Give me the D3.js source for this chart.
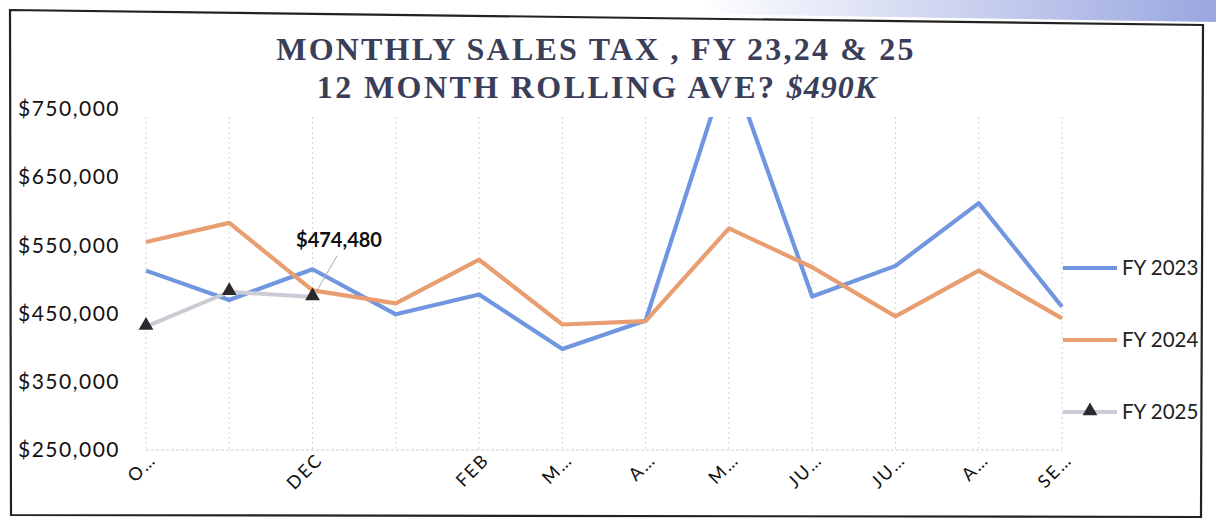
<!DOCTYPE html>
<html>
<head>
<meta charset="utf-8">
<script src="https://cdn.jsdelivr.net/npm/d3@7"></script>
<style>
  body { margin: 0; background: #fff; }
  #chart { width: 1216px; height: 529px; }
</style>
</head>
<body>
<div id="chart"></div>
<script>
// months of the fiscal year (Oct - Sep)
var months = ["OCT", "NOV", "DEC", "JAN", "FEB", "MAR", "APR", "MAY", "JUN", "JUL", "AUG", "SEP"];
// the category labels as Excel truncated them (blank = skipped)
var tickLabels = ["O\u2026", "", "DEC", "", "FEB", "M\u2026", "A\u2026", "M\u2026", "JU\u2026", "JU\u2026", "A\u2026", "SE\u2026"];
var yTicks = [250000, 350000, 450000, 550000, 650000, 750000];

var fy2023 = [513000, 470000, 515000, 449000, 478000, 398000, 440000, 820000, 475000, 520000, 612000, 460000];
var fy2024 = [555000, 583000, 484000, 465000, 529000, 434000, 439000, 575000, 518000, 446000, 513000, 443000];
var fy2025 = [431000, 482000, 474480];

var seriesNames = ["FY 2023", "FY 2024", "FY 2025"];
var seriesColors = ["#7196e0", "#e99e72", "#cbcbd6"];

salesChart = function(_parentElement){
    this.parentElement = _parentElement;
    this.initVis();
}

salesChart.prototype.initVis = function(){
    var vis = this;

    vis.width = 1216;
    vis.height = 529;

    vis.svg = d3.select("#" + vis.parentElement)
        .append("svg")
        .attr("width", vis.width)
        .attr("height", vis.height);

    // scan shadow + page frame
    var grad = vis.svg.append("defs").append("linearGradient")
        .attr("id", "shade").attr("x1", "0").attr("x2", "1");
    grad.append("stop").attr("offset", "0").attr("stop-color", "#ffffff");
    grad.append("stop").attr("offset", "1").attr("stop-color", "#8090d8");
    vis.svg.append("polygon")
        .attr("points", "700,0 1216,0 1216,22 700,14")
        .attr("fill", "url(#shade)")
        .attr("opacity", 0.8);
    vis.svg.append("polygon")
        .attr("points", "10,10 1203,25 1201,517 11,515")
        .attr("fill", "none")
        .attr("stroke", "#222")
        .attr("stroke-width", 2.2);

    vis.x = d3.scalePoint()
        .domain(months)
        .range([146, 1062]);

    vis.y = d3.scaleLinear()
        .domain([250000, 750000])
        .range([450, 109]);

    vis.clip = vis.svg.append("clipPath").attr("id", "plotclip")
        .append("rect")
        .attr("x", 100).attr("y", 117)
        .attr("width", 1000).attr("height", 360);

    // vertical dotted gridlines
    vis.svg.append("g").selectAll("line.grid")
        .data(months)
        .enter().append("line")
        .attr("x1", function(d){ return vis.x(d); })
        .attr("x2", function(d){ return vis.x(d); })
        .attr("y1", 117)
        .attr("y2", vis.y(250000))
        .attr("stroke", "#d4d4d4")
        .attr("stroke-width", 1)
        .attr("stroke-dasharray", "2,3");

    vis.svg.append("line")
        .attr("x1", vis.x("OCT"))
        .attr("x2", vis.x("SEP"))
        .attr("y1", vis.y(250000))
        .attr("y2", vis.y(250000))
        .attr("stroke", "#cfcfcf")
        .attr("stroke-dasharray", "3,2");

    // y axis labels
    vis.yAxis = d3.axisLeft(vis.y)
        .tickValues(yTicks)
        .tickSize(0)
        .tickPadding(0)
        .tickFormat(function(d){ return "$" + d3.format(",")(d); });
    vis.svg.append("g")
        .attr("class", "y-axis")
        .attr("transform", "translate(120,0)")
        .call(vis.yAxis)
        .call(function(g){ g.select(".domain").remove(); })
        .selectAll("text")
        .style("font-family", "Lato, 'Open Sans', sans-serif")
        .style("font-size", "21px")
        .style("letter-spacing", "1.5px")
        .style("fill", "#111");

    // x axis labels, rotated
    vis.xAxis = d3.axisBottom(vis.x)
        .tickSize(0)
        .tickFormat(function(d, i){ return tickLabels[i]; });
    var xg = vis.svg.append("g")
        .attr("class", "x-axis")
        .attr("transform", "translate(0," + 463 + ")")
        .call(vis.xAxis);
    xg.select(".domain").remove();
    xg.selectAll("text")
        .attr("x", 9)
        .attr("y", 0)
        .attr("dy", "0.35em")
        .attr("text-anchor", "end")
        .attr("transform", "rotate(-45)")
        .style("font-family", "Lato, 'Open Sans', sans-serif")
        .style("font-size", "18px")
        .style("letter-spacing", "2px")
        .style("fill", "#111");

    vis.line = d3.line()
        .x(function(d, i){ return vis.x(months[i]); })
        .y(function(d){ return vis.y(d); });

    var plot = vis.svg.append("g").attr("clip-path", "url(#plotclip)");
    [fy2023, fy2024, fy2025].forEach(function(s, k){
        plot.append("path")
            .datum(s)
            .attr("d", vis.line)
            .attr("fill", "none")
            .attr("stroke", seriesColors[k])
            .attr("stroke-width", k == 2 ? 4 : 4.2)
            .attr("stroke-linejoin", "round");
    });

    var tri = d3.symbol().type(d3.symbolTriangle).size(95);
    vis.svg.append("g").selectAll("path.marker")
        .data(fy2025)
        .enter().append("path")
        .attr("d", tri)
        .attr("transform", function(d, i){ return "translate(" + vis.x(months[i]) + "," + (vis.y(d) - 1) + ")"; })
        .attr("fill", "#2a2a2e");

    // data label with leader line
    var last = fy2025.length - 1;
    vis.svg.append("line")
        .attr("x1", 337).attr("y1", 256)
        .attr("x2", vis.x(months[last]) + 3).attr("y2", vis.y(fy2025[last]) - 4)
        .attr("stroke", "#aaa")
        .attr("stroke-width", 1);
    vis.svg.append("text")
        .attr("x", 339)
        .attr("y", 247)
        .attr("text-anchor", "middle")
        .style("font-family", "Lato, 'Open Sans', sans-serif")
        .style("font-weight", "bold")
        .style("font-size", "20px")
        .style("fill", "#111")
        .text("$" + d3.format(",")(fy2025[last]));

    // title
    var title = vis.svg.append("text")
        .attr("text-anchor", "middle")
        .style("font-family", "'Liberation Serif', serif")
        .style("font-weight", "bold")
        .style("fill", "#3a3e58");
    title.append("tspan")
        .attr("x", 596).attr("y", 60)
        .style("font-size", "32px")
        .style("letter-spacing", "2.2px")
        .text("MONTHLY SALES TAX , FY 23,24 & 25");
    var t2 = title.append("tspan")
        .attr("x", 597).attr("y", 98)
        .style("font-size", "32px")
        .style("letter-spacing", "2.4px")
        .text("12 MONTH ROLLING AVE? ");
    t2.append("tspan")
        .style("font-style", "italic")
        .style("letter-spacing", "1px")
        .text("$490K");

    // legend
    var legendY = [268, 340, 412];
    var leg = vis.svg.append("g");
    seriesNames.forEach(function(name, k){
        leg.append("line")
            .attr("x1", 1063).attr("x2", 1117)
            .attr("y1", legendY[k]).attr("y2", legendY[k])
            .attr("stroke", seriesColors[k])
            .attr("stroke-width", 4);
        if (k == 2) {
            leg.append("path")
                .attr("d", tri)
                .attr("transform", "translate(1090," + (legendY[k] - 1) + ")")
                .attr("fill", "#2a2a2e");
        }
        leg.append("text")
            .attr("x", 1122)
            .attr("y", legendY[k])
            .attr("dy", "0.35em")
            .style("font-family", "Lato, 'Open Sans', sans-serif")
            .style("font-size", "20.5px")
            .style("fill", "#222")
            .text(name);
    });
}

new salesChart("chart");
</script>
</body>
</html>
